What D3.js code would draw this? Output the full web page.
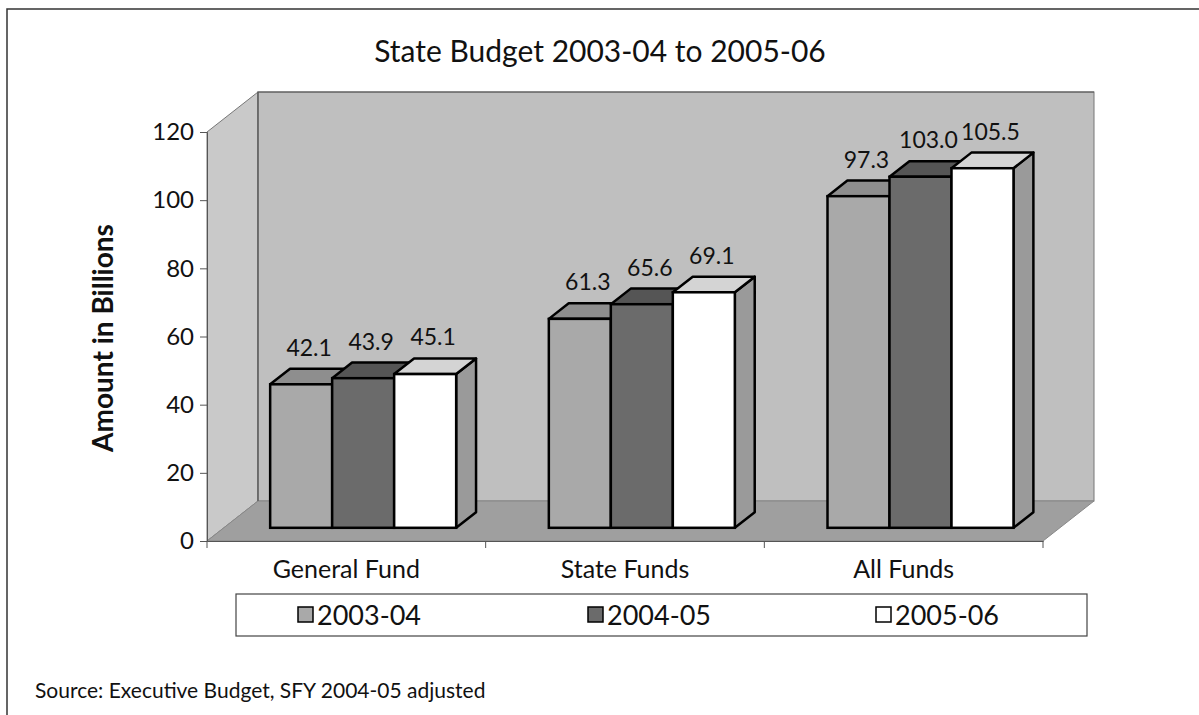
<!DOCTYPE html>
<html>
<head>
<script src="https://d3js.org/d3.v7.min.js"></script>
<style>
  body { margin: 0; background: white; }
  text { font-family: Lato, "Open Sans", sans-serif; fill: #111; }
</style>
</head>
<body>
<div id="chart"></div>
<script>
// data
var categories = ["General Fund", "State Funds", "All Funds"];
var series = ["2003-04", "2004-05", "2005-06"];
var generalFund = [42.1, 43.9, 45.1];
var stateFunds = [61.3, 65.6, 69.1];
var allFunds = [97.3, 103.0, 105.5];
var yTicks = [0, 20, 40, 60, 80, 100, 120];

var values = [generalFund, stateFunds, allFunds];

var W = 1199, H = 715;
var svg = d3.select("#chart").append("svg")
    .attr("width", W).attr("height", H);

// outer frame (top and left only visible)
svg.append("path")
    .attr("d", "M7,715 L7,9 L1199,9")
    .attr("fill", "none").attr("stroke", "#333").attr("stroke-width", 1.5);

// title
svg.append("text")
    .attr("x", 600).attr("y", 62)
    .attr("text-anchor", "middle")
    .style("font-size", "30px")
    .text("State Budget 2003-04 to 2005-06");

// scales
var x0 = d3.scaleBand().domain(categories).range([207, 1043]);
var x1 = d3.scaleBand().domain(series).range([0, 186]);
var y = d3.scaleLinear().domain([0, 120]).range([541, 132]);
var color = d3.scaleOrdinal().domain(series).range(["#a9a9a9", "#6b6b6b", "#ffffff"]);
var topColor = d3.scaleOrdinal().domain(series).range(["#8e8e8e", "#555555", "#d4d4d4"]);
var sideColor = d3.scaleOrdinal().domain(series).range(["#8a8a8a", "#505050", "#9a9a9a"]);

// depth of the 3d box
var depth = {dx: 51, dy: -40};
function off(t) { return [depth.dx * t, depth.dy * t]; }
var zFront = 0.33, zBack = 0.72;

var x0L = x0.range()[0], x0R = x0.range()[1];
var y0 = y(0), yT = y(120);
var b = off(1);

// walls
svg.append("path") // left wall
    .attr("d", "M" + x0L + "," + yT + " L" + (x0L + b[0]) + "," + (yT + b[1]) +
        " L" + (x0L + b[0]) + "," + (y0 + b[1]) + " L" + x0L + "," + y0 + "Z")
    .attr("fill", "#c9c9c9").attr("stroke", "#777").attr("stroke-width", 1);
svg.append("rect") // back wall
    .attr("x", x0L + b[0]).attr("y", yT + b[1])
    .attr("width", x0R - x0L).attr("height", y0 - yT)
    .attr("fill", "#bfbfbf").attr("stroke", "#777").attr("stroke-width", 1);
svg.append("path") // floor
    .attr("d", "M" + x0L + "," + y0 + " L" + (x0L + b[0]) + "," + (y0 + b[1]) +
        " L" + (x0R + b[0]) + "," + (y0 + b[1]) + " L" + x0R + "," + y0 + "Z")
    .attr("fill", "#9f9f9f").attr("stroke", "#888").attr("stroke-width", 1);
// darker top/left edge of back wall
svg.append("path")
    .attr("d", "M" + (x0L + b[0]) + "," + (y0 + b[1]) + " L" + (x0L + b[0]) + "," + (yT + b[1]) +
        " L" + (x0R + b[0]) + "," + (yT + b[1]))
    .attr("fill", "none").attr("stroke", "#555").attr("stroke-width", 1.2);

// y axis
var yAxis = svg.append("g")
    .attr("transform", "translate(" + x0L + ",0)")
    .call(d3.axisLeft(y).tickValues(yTicks).tickSize(7).tickPadding(6));
yAxis.select(".domain").attr("stroke", "#555");
yAxis.selectAll(".tick line").attr("stroke", "#555");
yAxis.selectAll("text").style("font-size", "24px").style("font-family", "Lato, sans-serif").attr("fill", "#111");

// x axis
var xAxis = svg.append("g")
    .attr("transform", "translate(0," + y0 + ")")
    .call(d3.axisBottom(x0).tickSize(0).tickPadding(19));
xAxis.select(".domain").attr("stroke", "#555");
xAxis.selectAll("text").style("font-size", "25px").style("font-family", "Lato, sans-serif").attr("fill", "#111");
// category boundary ticks
var bounds = categories.map(function(c) { return x0(c); }).concat([x0R]);
svg.append("g").selectAll("line").data(bounds).enter().append("line")
    .attr("x1", function(d) { return d; }).attr("x2", function(d) { return d; })
    .attr("y1", y0).attr("y2", y0 + 7)
    .attr("stroke", "#555");

// bars
var pad = (x0.bandwidth() - 186) / 2;
var f = off(zFront), bk = off(zBack - zFront);
var bars = [];
categories.forEach(function(c, i) {
  series.forEach(function(s, j) {
    bars.push({cat: c, key: s, value: values[i][j]});
  });
});

var g = svg.append("g");
bars.forEach(function(d) {
  var xl = x0(d.cat) + pad + x1(d.key) + f[0];
  var xr = xl + x1.bandwidth();
  var yt = y(d.value) + f[1];
  var yb = y0 + f[1];
  var bar = g.append("g");
  // side face
  bar.append("path")
      .attr("d", "M" + xr + "," + yt + " L" + (xr + bk[0]) + "," + (yt + bk[1]) +
          " L" + (xr + bk[0]) + "," + (yb + bk[1]) + " L" + xr + "," + yb + "Z")
      .attr("fill", sideColor(d.key)).attr("stroke", "#000").attr("stroke-width", 2.5)
      .attr("stroke-linejoin", "round");
  // top face
  bar.append("path")
      .attr("d", "M" + xl + "," + yt + " L" + (xl + bk[0]) + "," + (yt + bk[1]) +
          " L" + (xr + bk[0]) + "," + (yt + bk[1]) + " L" + xr + "," + yt + "Z")
      .attr("fill", topColor(d.key)).attr("stroke", "#000").attr("stroke-width", 2.5)
      .attr("stroke-linejoin", "round");
  // front face
  bar.append("rect")
      .attr("x", xl).attr("y", yt)
      .attr("width", xr - xl).attr("height", yb - yt)
      .attr("fill", color(d.key)).attr("stroke", "#000").attr("stroke-width", 2.5);
});

// value labels
svg.append("g").selectAll("text").data(bars).enter().append("text")
    .attr("x", function(d) { return x0(d.cat) + pad + x1(d.key) + x1.bandwidth() / 2 + f[0] + 8; })
    .attr("y", function(d) { return y(d.value) + f[1] + bk[1] - 13; })
    .attr("text-anchor", "middle")
    .style("font-size", "23px")
    .text(function(d) { return d.value.toFixed(1); });

// y axis title
svg.append("text")
    .attr("transform", "translate(113,338) rotate(-90)")
    .attr("text-anchor", "middle")
    .style("font-size", "28px").style("font-weight", "bold")
    .text("Amount in Billions");

// legend
var legend = svg.append("g");
legend.append("rect")
    .attr("x", 236).attr("y", 594).attr("width", 851).attr("height", 42)
    .attr("fill", "white").attr("stroke", "#444").attr("stroke-width", 1.2);
var legX = d3.scaleOrdinal().domain(series).range([298, 588, 876]);
series.forEach(function(s) {
  legend.append("rect")
      .attr("x", legX(s)).attr("y", 607).attr("width", 15).attr("height", 15)
      .attr("fill", color(s)).attr("stroke", "#000").attr("stroke-width", 1.5);
  legend.append("text")
      .attr("x", legX(s) + 19).attr("y", 625)
      .style("font-size", "27px")
      .text(s);
});

// source
svg.append("text")
    .attr("x", 35).attr("y", 698)
    .style("font-size", "21px")
    .text("Source: Executive Budget, SFY 2004-05 adjusted");
</script>
</body>
</html>
